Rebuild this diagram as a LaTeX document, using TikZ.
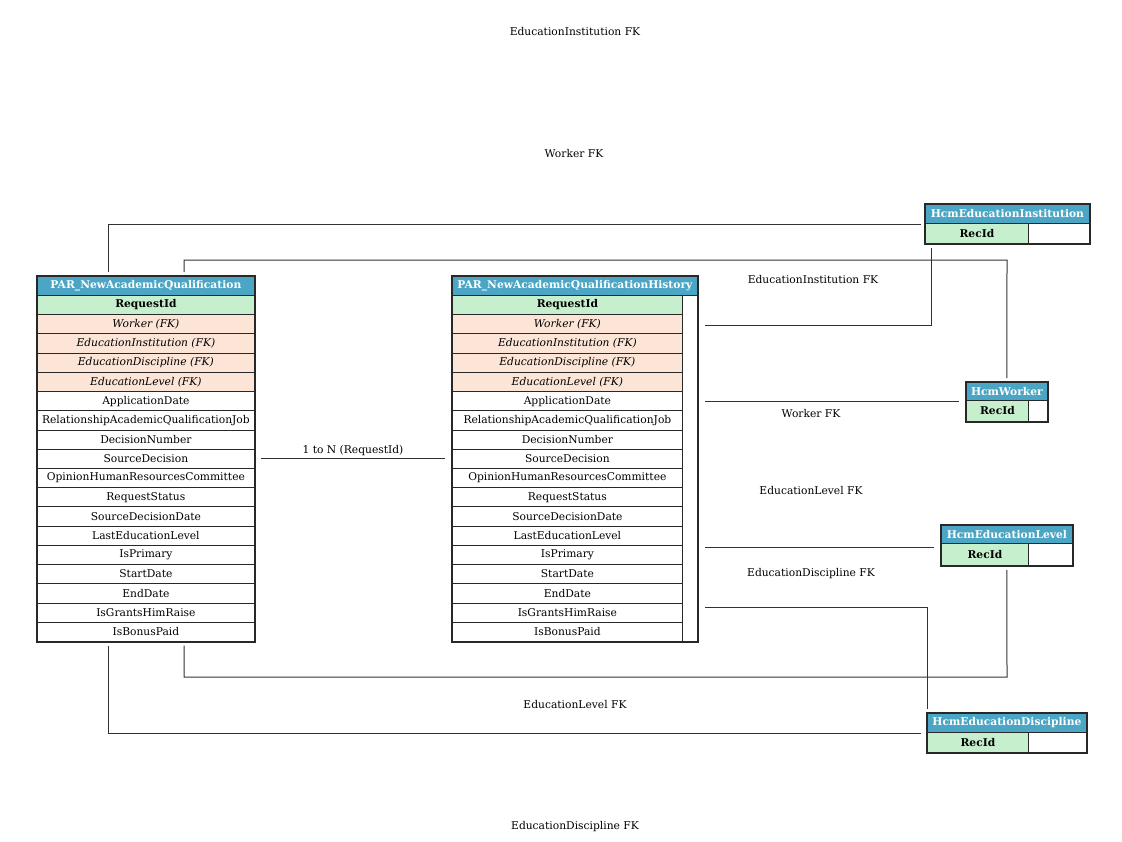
\documentclass[tikz,border=0pt]{standalone}
\usepackage{fontspec}
\setmainfont{DejaVu Serif}
\usetikzlibrary{calc}

\definecolor{hdrblue}{RGB}{75,165,196}
\definecolor{pkgreen}{RGB}{198,239,206}
\definecolor{fkpeach}{RGB}{252,228,214}
\definecolor{tblline}{RGB}{40,40,40}
\definecolor{connline}{RGB}{50,50,50}

\newcommand{\erfont}{\fontsize{10.7}{12.8}\selectfont}

\begin{document}
\begin{tikzpicture}[x=1pt,y=-1pt,
  cell/.style={draw=tblline, line width=0.8pt, inner sep=0pt, minimum height=19.2pt,
               anchor=north west, align=center, fill=white, font=\erfont},
  nm/.style={cell},
  pk/.style={cell, fill=pkgreen, font=\erfont\bfseries},
  fk/.style={cell, fill=fkpeach, font=\erfont\itshape},
  hdr/.style={cell, fill=hdrblue, text=white, font=\erfont\bfseries},
  blank/.style={cell},
  frame/.style={draw=tblline, line width=1.6pt},
  conn/.style={draw=connline, line width=1pt},
  lbl/.style={inner sep=1pt, font=\erfont}]

\useasboundingbox (0,0) rectangle (1122,841);

% ---- PAR_NewAcademicQualification ----
\node[hdr, minimum width=217pt, minimum height=19pt] (ah) at (37,276) {PAR\_NewAcademicQualification};
\foreach \sty/\txt [count=\i] in {
  pk/RequestId, fk/Worker (FK), fk/EducationInstitution (FK), fk/EducationDiscipline (FK),
  fk/EducationLevel (FK), nm/ApplicationDate, nm/RelationshipAcademicQualificationJob,
  nm/DecisionNumber, nm/SourceDecision, nm/OpinionHumanResourcesCommittee, nm/RequestStatus,
  nm/SourceDecisionDate, nm/LastEducationLevel, nm/IsPrimary, nm/StartDate, nm/EndDate,
  nm/IsGrantsHimRaise, nm/IsBonusPaid}
  \node[\sty, minimum width=217pt] (a\i) at ({37},{295+19.22*(\i-1)}) {\txt};
\draw[frame] (ah.north west) rectangle (a18.south east);

% ---- PAR_NewAcademicQualificationHistory ----
\node[hdr, minimum width=245pt, minimum height=19pt] (bh) at (452,276) {PAR\_NewAcademicQualificationHistory};
\foreach \sty/\txt [count=\i] in {
  pk/RequestId, fk/Worker (FK), fk/EducationInstitution (FK), fk/EducationDiscipline (FK),
  fk/EducationLevel (FK), nm/ApplicationDate, nm/RelationshipAcademicQualificationJob,
  nm/DecisionNumber, nm/SourceDecision, nm/OpinionHumanResourcesCommittee, nm/RequestStatus,
  nm/SourceDecisionDate, nm/LastEducationLevel, nm/IsPrimary, nm/StartDate, nm/EndDate,
  nm/IsGrantsHimRaise, nm/IsBonusPaid}
  \node[\sty, minimum width=230pt] (b\i) at ({452},{295+19.22*(\i-1)}) {\txt};
\draw[frame] (bh.north west) rectangle (bh.east |- b18.south);

% ---- HcmEducationInstitution ----
\node[hdr, minimum width=164pt, minimum height=19pt] (insth) at (925,204) {HcmEducationInstitution};
\node[pk, minimum width=103pt, minimum height=20pt] (instk) at (925,223) {RecId};
\node[blank, minimum width=61pt, minimum height=20pt] (instb) at (1028,223) {};
\draw[frame] (insth.north west) rectangle (instb.south east);

% ---- HcmWorker ----
\node[hdr, minimum width=81pt, minimum height=18pt] (wrkh) at (966,382) {HcmWorker};
\node[pk, minimum width=62pt, minimum height=21pt] (wrkk) at (966,400) {RecId};
\node[blank, minimum width=19pt, minimum height=21pt] (wrkb) at (1028,400) {};
\draw[frame] (wrkh.north west) rectangle (wrkb.south east);

% ---- HcmEducationLevel ----
\node[hdr, minimum width=131pt, minimum height=18pt] (lvlh) at (941,525) {HcmEducationLevel};
\node[pk, minimum width=87pt, minimum height=22pt] (lvlk) at (941,543) {RecId};
\node[blank, minimum width=44pt, minimum height=22pt] (lvlb) at (1028,543) {};
\draw[frame] (lvlh.north west) rectangle (lvlb.south east);

% ---- HcmEducationDiscipline ----
\node[hdr, minimum width=159pt, minimum height=19pt] (disch) at (927,713) {HcmEducationDiscipline};
\node[pk, minimum width=101pt, minimum height=20pt] (disck) at (927,732) {RecId};
\node[blank, minimum width=58pt, minimum height=20pt] (discb) at (1028,732) {};
\draw[frame] (disch.north west) rectangle (discb.south east);

% ---- helper points for connector ends ----
\coordinate (wbend) at (1007,260);
\coordinate (lbend) at (1007,677);
\coordinate (wleft) at ([xshift=-7pt]wrkh.south west);
\coordinate (lleft) at ([xshift=-7pt]lvlh.south west);
\coordinate (lbot)  at ([yshift=-4pt]lvlk.south -| lvlh.south);
\coordinate (m2s) at ([xshift=22pt]b6.east);
\coordinate (m3s) at ([xshift=22pt,yshift=-1.5pt]b13.south east);
\coordinate (m4s) at ([xshift=22pt,yshift=-4pt]b16.south east);

% ---- connectors from PAR_NewAcademicQualification ----
\draw[conn] ([xshift=71pt,yshift=4pt]ah.north west) |- ([xshift=-4pt,yshift=-1pt]insth.south west);
\draw[conn] ([xshift=147pt,yshift=4pt]ah.north west) |- (wbend) -- ([yshift=4pt]wrkh.north);
\draw[conn] ([xshift=147pt,yshift=-4pt]a18.south west) |- (lbend) -- (lbot);
\draw[conn] ([xshift=71pt,yshift=-4pt]a18.south west) |- ([xshift=-6pt,yshift=-1pt]disch.south west);
\draw[conn] ([xshift=6pt]a9.east) -- ([xshift=-7pt]b9.west);

% ---- connectors from PAR_NewAcademicQualificationHistory ----
\draw[conn] ([xshift=22pt,yshift=-1.5pt]b2.east) -| ([xshift=6pt,yshift=-4pt]instk.south west);
\draw[conn] (m2s) -- (wleft |- m2s);
\draw[conn] (m3s) -- (lleft |- m3s);
\draw[conn] (m4s) -| ([yshift=4pt]disch.north west);

% ---- relation labels ----
\node[lbl] (l1) at (575,32)  {EducationInstitution FK};
\node[lbl] (l2) at (574,154) {Worker FK};
\node[lbl] (l3) at (813,280) {EducationInstitution FK};
\node[lbl] (l4) at (811,414) {Worker FK};
\node[lbl] (l5) at (811,491) {EducationLevel FK};
\node[lbl] (l6) at (811,574) {EducationDiscipline FK};
\node[lbl] (l7) at (575,705) {EducationLevel FK};
\node[lbl] (l8) at (575,827) {EducationDiscipline FK};
\node[lbl] (l9) at (353,451) {1 to N (RequestId)};

\end{tikzpicture}
\end{document}
